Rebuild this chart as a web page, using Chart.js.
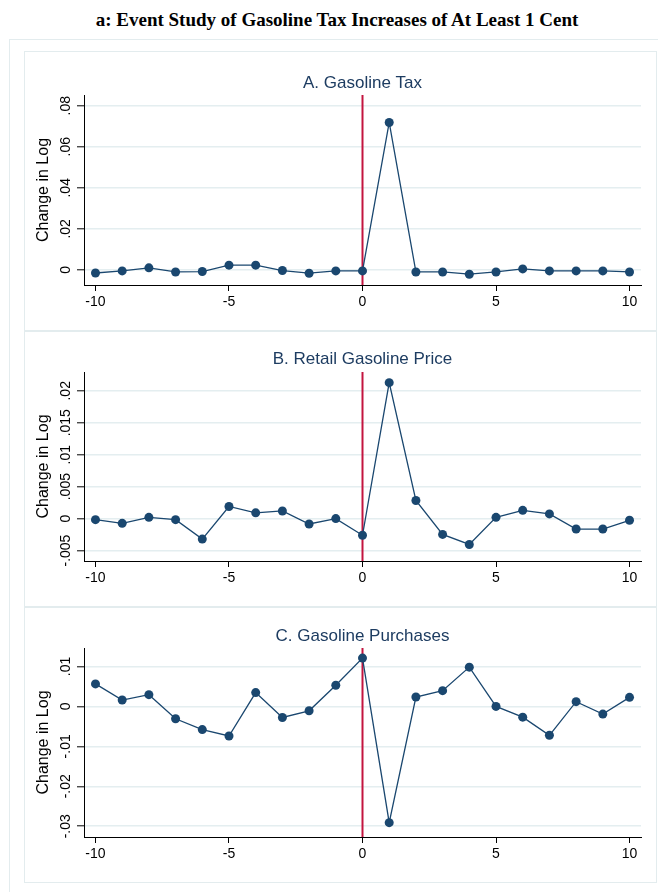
<!DOCTYPE html>
<html>
<head>
<meta charset="utf-8">
<title>Event Study of Gasoline Tax Increases</title>
<script src="https://cdn.jsdelivr.net/npm/chart.js@4.4.1/dist/chart.umd.min.js"></script>
<style>
  html, body { margin: 0; padding: 0; background: #fff; }
  body { width: 658px; height: 892px; position: relative; overflow: hidden; }
  #heading {
    position: absolute; left: 16px; top: 9px; width: 642px;
    text-align: center; color: #000;
    font: bold 19px/22px "Liberation Serif", "Times New Roman", serif;
  }
  #frame {
    position: absolute; left: 9px; top: 39px; width: 680px; height: 900px;
    border: 1px solid #e3ecee;
  }
  .box {
    position: absolute; left: 24px; width: 633px; box-sizing: border-box;
    border: 1px solid #e3ecee;
  }
  .box canvas { position: absolute; left: -1px; top: -1px; }
</style>
</head>
<body>
<div id="heading">a: Event Study of Gasoline Tax Increases of At Least 1 Cent</div>
<div id="frame"></div>
<div class="box" style="top:51px;height:280px;"><canvas id="panelA" width="633" height="280"></canvas></div>
<div class="box" style="top:331px;height:276px;"><canvas id="panelB" width="633" height="276"></canvas></div>
<div class="box" style="top:607px;height:276px;"><canvas id="panelC" width="633" height="276"></canvas></div>

<script>
// Years relative to the tax increase
const eventTime = [-10, -9, -8, -7, -6, -5, -4, -3, -2, -1, 0, 1, 2, 3, 4, 5, 6, 7, 8, 9, 10];

// Estimated change in log for each outcome
const taxChange = [-0.0015, -0.0005, 0.0010, -0.0010, -0.0008, 0.0023, 0.0023, -0.0003, -0.0016, -0.0005, -0.0005,
                   0.0718, -0.0010, -0.0010, -0.0021, -0.0010, 0.0005, -0.0005, -0.0005, -0.0005, -0.0010];
const priceChange = [-0.00016, -0.00074, 0.00020, -0.00016, -0.00320, 0.00190, 0.00090, 0.00120, -0.00084, 0.00000, -0.00260,
                     0.02127, 0.00284, -0.00247, -0.00404, 0.00020, 0.00130, 0.00074, -0.00163, -0.00163, -0.00026];
const purchaseChange = [0.00563, 0.00160, 0.00294, -0.00310, -0.00580, -0.00740, 0.00345, -0.00277, -0.00110, 0.00530, 0.01210,
                        -0.02910, 0.00235, 0.00395, 0.00983, 0.00000, -0.00269, -0.00723, 0.00118, -0.00193, 0.00227];

// Tick labels
const xTicks = [-10, -5, 0, 5, 10];
const taxTicks = [0, 0.02, 0.04, 0.06, 0.08];
const priceTicks = [-0.005, 0, 0.005, 0.01, 0.015, 0.02];
const purchaseTicks = [-0.03, -0.02, -0.01, 0, 0.01];

// Panel titles and shared axis title
const panelTitles = ['A. Gasoline Tax', 'B. Retail Gasoline Price', 'C. Gasoline Purchases'];
const yAxisTitle = 'Change in Log';

// Event date marker
const eventDate = 0;

const FAMILY = '"Liberation Sans", Arial, Helvetica, sans-serif';
const TICK_SIZE = 14;
const NAVY = '#1a476f';
const EVENT_RED = '#c3143f';
const GRID = '#e4eef0';

Chart.defaults.font.family = FAMILY;

// Stata style numbers: no leading zero
function fmt(v) {
  if (Math.abs(v) < 1e-12) return '0';
  const s = String(+v.toFixed(4));
  return s.replace(/^(-?)0\./, '$1.');
}

const measureCtx = document.createElement('canvas').getContext('2d');
measureCtx.font = 'normal ' + TICK_SIZE + 'px ' + FAMILY;
function widestLabel(ticks) {
  return Math.max.apply(null, ticks.map(v => measureCtx.measureText(fmt(v)).width));
}

// Draws the panel heading centred over the plot region
const panelTitle = {
  id: 'panelTitle',
  afterDraw(chart, args, opts) {
    const { ctx, chartArea } = chart;
    ctx.save();
    ctx.font = 'normal 17px ' + FAMILY;
    ctx.fillStyle = '#1d3c61';
    ctx.textAlign = 'center';
    ctx.textBaseline = 'middle';
    ctx.fillText(opts.text, (chartArea.left + chartArea.right) / 2, chartArea.top - opts.gap);
    ctx.restore();
  }
};

function makePanel(id, values, yTicks, yMin, yMax, title, topPad, gap) {
  const labelPad = 11 - widestLabel(yTicks) / 2;
  return new Chart(document.getElementById(id), {
    type: 'line',
    data: {
      datasets: [
        {
          data: eventTime.map((t, i) => ({ x: t, y: values[i] })),
          borderColor: NAVY,
          borderWidth: 1.3,
          pointRadius: 4.5,
          pointBorderWidth: 0,
          pointBackgroundColor: NAVY,
          tension: 0,
          fill: false,
          order: 1
        },
        {
          data: [{ x: eventDate, y: yMin }, { x: eventDate, y: yMax }],
          borderColor: EVENT_RED,
          borderWidth: 2,
          pointRadius: 0,
          fill: false,
          order: 2
        }
      ]
    },
    options: {
      responsive: false,
      animation: false,
      devicePixelRatio: 1,
      layout: { padding: { top: topPad, right: 16, bottom: 0, left: 0 } },
      plugins: {
        legend: { display: false },
        tooltip: { enabled: false },
        panelTitle: { text: title, gap: gap }
      },
      scales: {
        x: {
          type: 'linear',
          position: 'bottom',
          min: -10.43,
          max: 10.43,
          afterBuildTicks: s => { s.ticks = xTicks.map(v => ({ value: v })); },
          afterFit: s => { s.height = 46; },
          grid: { drawOnChartArea: false, drawTicks: true, tickLength: 6, tickColor: '#000', tickWidth: 1 },
          border: { display: true, color: '#000', width: 1 },
          ticks: {
            color: '#000', font: { size: TICK_SIZE }, padding: 3,
            minRotation: 0, maxRotation: 0,
            callback: v => String(v)
          }
        },
        y: {
          type: 'linear',
          position: 'left',
          min: yMin,
          max: yMax,
          afterBuildTicks: s => { s.ticks = yTicks.map(v => ({ value: v })); },
          afterFit: s => { s.width = 60; },
          grid: { color: GRID, lineWidth: 1.6, drawTicks: true, tickLength: 7, tickColor: '#000', tickWidth: 1 },
          border: { display: true, color: '#000', width: 1 },
          ticks: {
            color: '#000', font: { size: TICK_SIZE },
            minRotation: 90, maxRotation: 90,
            crossAlign: 'center', padding: labelPad,
            callback: v => fmt(v)
          },
          title: {
            display: true, text: yAxisTitle, color: '#000',
            font: { size: 16 }, padding: { top: 10, bottom: 0 }
          }
        }
      }
    },
    plugins: [panelTitle]
  });
}

makePanel('panelA', taxChange, taxTicks, -0.00735, 0.0852, panelTitles[0], 44, 12);
makePanel('panelB', priceChange, priceTicks, -0.00663, 0.02294, panelTitles[1], 41, 13);
makePanel('panelC', purchaseChange, purchaseTicks, -0.03269, 0.01462, panelTitles[2], 41, 12);
</script>
</body>
</html>
